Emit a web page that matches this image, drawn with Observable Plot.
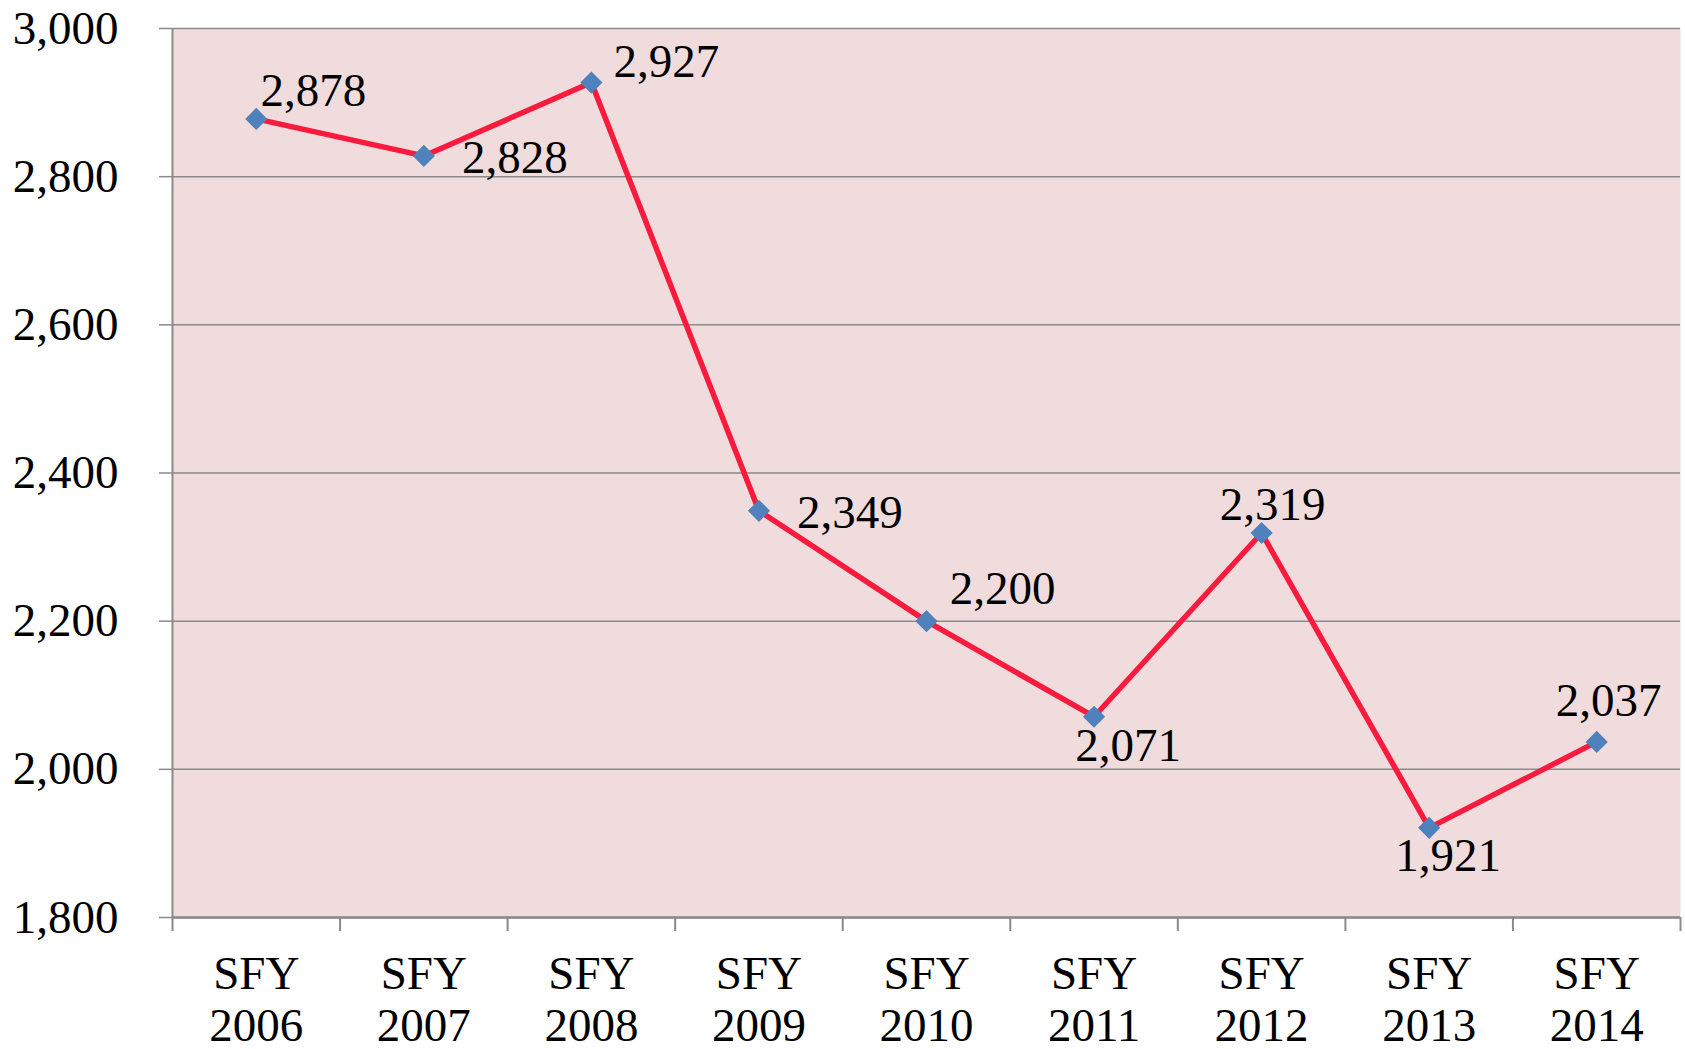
<!DOCTYPE html>
<html>
<head>
<meta charset="utf-8">
<script src="https://cdn.jsdelivr.net/npm/d3@7"></script>
<script src="https://cdn.jsdelivr.net/npm/@observablehq/plot@0.6"></script>
<style>
  html, body { margin: 0; padding: 0; background: #fff; }
  svg { display: block; }
</style>
</head>
<body>
<div id="chart"></div>
<script>
const categories = ["SFY 2006", "SFY 2007", "SFY 2008", "SFY 2009", "SFY 2010", "SFY 2011", "SFY 2012", "SFY 2013", "SFY 2014"];
const values = [2878, 2828, 2927, 2349, 2200, 2071, 2319, 1921, 2037];
const yTicks = [1800, 2000, 2200, 2400, 2600, 2800, 3000];

// label placement (offsets from each point, in px)
const labelDx = [57, 91, 75, 91, 76, 34, 11, 19, 12];
const labelDy = [-28, 2, -21, 2, -32, 29, -28, 28, -41];

const data = categories.map((c, i) => ({i, c, v: values[i], dx: labelDx[i], dy: labelDy[i]}));
const boundaries = d3.range(-0.5, categories.length, 1);

const font = "'Liberation Serif', 'Times New Roman', serif";
const gridColor = "#8a8a8a";
const fmt = d3.format(",");

const labelMarks = data.map(d => Plot.text([d], {
  x: "i", y: "v", text: x => fmt(x.v),
  dx: d.dx, dy: d.dy, fontSize: 47, fill: "#000", fontFamily: font
}));

const chart = Plot.plot({
  width: 1685,
  height: 1049,
  marginLeft: 172,
  marginRight: 5,
  marginTop: 28,
  marginBottom: 132,
  style: {fontFamily: font, background: "#fff", overflow: "visible"},
  x: {type: "linear", domain: [-0.5, categories.length - 0.5]},
  y: {domain: [1800, 3000]},
  marks: [
    Plot.frame({fill: "#f0dcdc", stroke: null}),
    Plot.gridY(yTicks, {stroke: gridColor, strokeOpacity: 1, strokeWidth: 1.5}),
    Plot.axisY({
      ticks: yTicks, tickFormat: fmt, tickSize: 13, tickPadding: 41, label: null,
      fontSize: 47, stroke: gridColor, strokeWidth: 1.5, fill: "#000", fontFamily: font
    }),
    Plot.ruleX([-0.5], {stroke: gridColor, strokeWidth: 2}),
    Plot.ruleY([1800], {stroke: gridColor, strokeWidth: 2.5}),
    Plot.axisX({
      ticks: boundaries, tickFormat: () => "", tickSize: 14,
      stroke: gridColor, strokeWidth: 2, label: null
    }),
    Plot.axisX({
      ticks: d3.range(categories.length),
      tickFormat: i => categories[i].replace(" ", "\n"),
      tickSize: 0, tickPadding: 35, lineHeight: 1.1,
      fontSize: 47, fill: "#000", fontFamily: font, label: null
    }),
    Plot.line(data, {x: "i", y: "v", stroke: "#fa1a3e", strokeWidth: 5.5}),
    Plot.dot(data, {x: "i", y: "v", symbol: "diamond2", r: 10, fill: "#4f81bd", stroke: null}),
    ...labelMarks
  ]
});
document.getElementById("chart").appendChild(chart);
</script>
</body>
</html>
